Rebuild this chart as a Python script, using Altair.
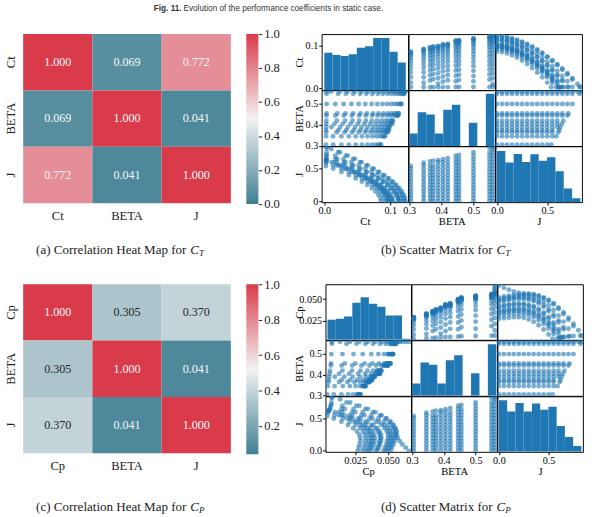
import altair as alt
import pandas as pd

# ---------------------------------------------------------------- palette
BLUE = "#1f77b4"
TEAL = "#3f7f93"
MID = "#f2f2f2"
RED = "#da3b4b"
INK = "#222222"
SERIF = "Liberation Serif"
SANS = "Liberation Sans"

# ---------------------------------------------------------------- correlations
VARS_T = ["Ct", "BETA", "J"]
VARS_P = ["Cp", "BETA", "J"]
CORR_T = [[1.000, 0.069, 0.772],
          [0.069, 1.000, 0.041],
          [0.772, 0.041, 1.000]]
CORR_P = [[1.000, 0.305, 0.370],
          [0.305, 1.000, 0.041],
          [0.370, 0.041, 1.000]]
CBAR_RANGE_T = [0.0, 1.0]
CBAR_RANGE_P = [0.041, 1.0]
CBAR_TICKS_T = [0.0, 0.2, 0.4, 0.6, 0.8, 1.0]
CBAR_TICKS_P = [0.2, 0.4, 0.6, 0.8, 1.0]

# ---------------------------------------------------------------- static sweep
BETA_LEVELS = [0.305, 0.345, 0.365, 0.375, 0.39, 0.405, 0.42, 0.445, 0.455, 0.50, 0.55, 0.56]
J_MAX = [0.54, 0.59, 0.61, 0.62, 0.63, 0.645, 0.66, 0.70, 0.71, 0.75, 0.82, 0.83]
J_GRID = [0.0, 0.05, 0.1, 0.15, 0.2, 0.25, 0.3, 0.35, 0.4, 0.45, 0.5, 0.55, 0.6,
          0.65, 0.7, 0.75, 0.8]

CT_CURVES = [
    [.0860, .0849, .0819, .0777, .0721, .0652, .0570, .0477, .0373, .0260, .0136, .0026],
    [.0920, .0910, .0884, .0845, .0793, .0730, .0656, .0571, .0477, .0372, .0259, .0133, .0028],
    [.0960, .0950, .0924, .0885, .0835, .0773, .0701, .0617, .0524, .0420, .0308, .0187, .0029],
    [.0980, .0970, .0945, .0906, .0856, .0795, .0722, .0639, .0548, .0446, .0335, .0214, .0029],
    [.0990, .0980, .0955, .0917, .0868, .0809, .0738, .0656, .0565, .0466, .0356, .0239, .0110, .0030],
    [.1030, .1021, .0995, .0957, .0908, .0849, .0778, .0697, .0607, .0508, .0399, .0280, .0155, .0031],
    [.1040, .1031, .1006, .0969, .0922, .0864, .0796, .0718, .0630, .0532, .0427, .0315, .0190, .0031],
    [.1120, .1111, .1086, .1053, .1006, .0951, .0884, .0809, .0724, .0629, .0528, .0417, .0296, .0168, .0034],
    [.1130, .1121, .1097, .1063, .1018, .0964, .0898, .0824, .0740, .0646, .0547, .0438, .0321, .0197, .0034],
    [.1170, .1163, .1140, .1107, .1064, .1013, .0952, .0882, .0804, .0717, .0622, .0521, .0411, .0293, .0167, .0035],
    [.1210, .1203, .1183, .1154, .1117, .1072, .1020, .0960, .0888, .0811, .0727, .0638, .0541, .0437, .0327, .0209, .0036],
    [.1230, .1223, .1203, .1175, .1137, .1092, .1041, .0980, .0911, .0833, .0750, .0661, .0566, .0464, .0354, .0236, .0105, .0037],
]
CP_CURVES = [
    [.0270, .0278, .0284, .0290, .0290, .0282, .0264, .0235, .0196, .0146, .0088, .0038],
    [.0307, .0315, .0323, .0329, .0330, .0324, .0312, .0289, .0254, .0210, .0157, .0094, .0043],
    [.0335, .0344, .0352, .0358, .0360, .0355, .0343, .0321, .0289, .0245, .0191, .0128, .0047],
    [.0353, .0363, .0372, .0378, .0380, .0376, .0364, .0342, .0310, .0266, .0212, .0148, .0049],
    [.0372, .0382, .0391, .0397, .0400, .0396, .0385, .0364, .0331, .0287, .0232, .0168, .0096, .0052],
    [.0409, .0420, .0430, .0436, .0440, .0436, .0425, .0405, .0372, .0327, .0273, .0205, .0128, .0057],
    [.0419, .0429, .0439, .0446, .0450, .0447, .0437, .0418, .0388, .0344, .0291, .0227, .0153, .0059],
    [.0465, .0475, .0487, .0494, .0500, .0500, .0492, .0475, .0449, .0409, .0359, .0298, .0228, .0148, .0065],
    [.0484, .0494, .0506, .0513, .0519, .0520, .0512, .0496, .0471, .0432, .0381, .0322, .0252, .0172, .0068],
    [.0502, .0513, .0524, .0532, .0538, .0540, .0535, .0524, .0501, .0470, .0427, .0373, .0308, .0238, .0154, .0070],
    [.0521, .0531, .0541, .0550, .0557, .0560, .0560, .0551, .0535, .0513, .0482, .0440, .0386, .0328, .0260, .0185, .0073],
    [.0660, .0635, .0610, .0590, .0575, .0568, .0565, .0558, .0543, .0520, .0490, .0452, .0404, .0347, .0283, .0212, .0136, .0075],
]

# histogram counts (10 bins over each variable's range)
HIST_CT = [115, 108, 105, 110, 130, 135, 160, 160, 118, 85]
HIST_BETA_T = [39, 104, 97, 39, 112, 127, 0, 72, 0, 161]
HIST_J_T = [157, 122, 148, 123, 147, 127, 138, 95, 42, 12]
HIST_CP = [62, 65, 72, 115, 132, 112, 102, 75, 75, 3]
HIST_BETA_P = [38, 103, 96, 38, 110, 126, 0, 70, 0, 160]
HIST_J_P = [160, 125, 151, 125, 150, 130, 140, 80, 46, 18]
HIST_RANGE = {"Ct": (0.0, 0.1235), "Cp": (0.004, 0.067), "BETA": (0.30, 0.565), "J": (0.0, 0.83)}
HIST_TOP = 172

# axis limits and ticks of the scatter matrices
DOMAIN = {"Ct": [-0.004, 0.127], "Cp": [0.0025, 0.0675], "BETA": [0.298, 0.567], "J": [-0.015, 0.845]}
TICKS = {"Ct": [0.0, 0.1], "Cp": [0.025, 0.05], "BETA": [0.3, 0.4, 0.5], "J": [0.0, 0.5]}
FORMAT = {"Ct": ".1f", "Cp": ".3f", "BETA": ".1f", "J": ".1f"}

# ---------------------------------------------------------------- tables
rows = []
for beta, jmax, cts, cps in zip(BETA_LEVELS, J_MAX, CT_CURVES, CP_CURVES):
    js = [j for j in J_GRID if j < jmax - 0.025] + [jmax]
    for j, ct, cp in zip(js, cts, cps):
        rows.append({"BETA": beta, "J": j, "Ct": ct, "Cp": cp})
points = pd.DataFrame(rows)


def hist_frame(counts, var):
    lo, hi = HIST_RANGE[var]
    w = (hi - lo) / len(counts)
    return pd.DataFrame({
        "lo": [lo + i * w for i in range(len(counts))],
        "hi": [lo + (i + 1) * w for i in range(len(counts))],
        "count": counts,
    })


def corr_frame(vars_, mat):
    return pd.DataFrame([{"row": vars_[i], "col": vars_[j], "v": mat[i][j]}
                         for i in range(3) for j in range(3)])


ONE = pd.DataFrame({"k": [0]})

# ---------------------------------------------------------------- heat maps
HM_W, HM_H, CB_W = 215, 175, 12.5


def heat_block(vars_, mat, rng, ticks):
    df = corr_frame(vars_, mat)
    mid = (rng[0] + rng[1]) / 2
    cscale = alt.Scale(domain=[rng[0], mid, rng[1]], range=[TEAL, MID, RED], interpolate="rgb")
    x = alt.X("col:N", sort=vars_, axis=alt.Axis(
        title=None, labelAngle=0, ticks=False, domain=False, labelPadding=7,
        labelFont=SERIF, labelFontSize=13, labelColor=INK))
    y = alt.Y("row:N", sort=vars_, axis=alt.Axis(
        title=None, labelAngle=-90, labelAlign="center", labelBaseline="bottom",
        ticks=False, domain=False, labelPadding=6,
        labelFont=SERIF, labelFontSize=13, labelColor=INK))
    cells = alt.Chart(df).mark_rect().encode(
        x=x, y=y, color=alt.Color("v:Q", scale=cscale, legend=None))
    labels = alt.Chart(df).mark_text(font=SERIF, fontSize=12.5).encode(
        x=x, y=y, text=alt.Text("v:Q", format=".3f"),
        color=alt.condition("datum.v > 0.2 && datum.v < 0.6",
                            alt.value("#262626"), alt.value("#f7f7f7")))
    heat = alt.layer(cells, labels).properties(width=HM_W, height=HM_H)

    grad = alt.Gradient(
        gradient="linear",
        stops=[alt.GradientStop(color=TEAL, offset=0),
               alt.GradientStop(color=MID, offset=0.5),
               alt.GradientStop(color=RED, offset=1)],
        x1=0, x2=0, y1=1, y2=0)
    bar = alt.Chart(pd.DataFrame({"lo": [rng[0]], "hi": [rng[1]]})).mark_rect(fill=grad).encode(
        y=alt.Y("lo:Q", scale=alt.Scale(domain=rng, nice=False, zero=False),
                axis=alt.Axis(orient="right", values=ticks, format=".1f", title=None,
                              grid=False, domain=False, tickSize=3.5, tickColor=INK,
                              labelPadding=2, labelFont=SERIF, labelFontSize=13,
                              labelColor=INK, labelFlush=False, labelOverlap=False)),
        y2="hi:Q",
        x=alt.value(0), x2=alt.value(CB_W),
    ).properties(width=CB_W, height=HM_H + 1)
    return alt.hconcat(heat, bar, spacing=14)


# ---------------------------------------------------------------- scatter matrices
def x_axis(var):
    return alt.Axis(values=TICKS[var], format=FORMAT[var], title=var, grid=False,
                    domain=False, tickSize=3, tickColor="black", labelPadding=1,
                    labelFont=SERIF, labelFontSize=10.5, labelColor="black",
                    titleFont=SERIF, titleFontSize=11, titleFontWeight="normal",
                    titleColor="black", titlePadding=0, labelFlush=False,
                    labelOverlap=False)


def y_axis(var, title_x, bare_zero):
    extra = {}
    if bare_zero and var == "J":
        extra["labelExpr"] = "datum.value == 0 ? '0' : format(datum.value, '.1f')"
    return alt.Axis(values=TICKS[var], format=FORMAT[var], title=var, grid=False,
                    domain=False, tickSize=3, tickColor="black", labelPadding=1,
                    labelFont=SERIF, labelFontSize=10.5, labelColor="black",
                    titleFont=SERIF, titleFontSize=11, titleFontWeight="normal",
                    titleColor="black", titleX=title_x, labelFlush=False,
                    labelOverlap=False, **extra)


def scatter_matrix(vars_, hists, pw, ph, title_x, bare_zero):
    frame = alt.ViewBackground(stroke="black", strokeWidth=1)
    panels = []
    for r, yv in enumerate(vars_):
        for c, xv in enumerate(vars_):
            xs = alt.Scale(domain=DOMAIN[xv], nice=False, zero=False)
            ys = alt.Scale(domain=DOMAIN[yv], nice=False, zero=False)
            xa = x_axis(xv) if r == 2 else None
            ya = y_axis(yv, title_x, bare_zero) if c == 0 else None
            if r == c:
                bars = alt.Chart(hist_frame(hists[xv], xv)).mark_rect(color=BLUE, clip=True).encode(
                    x=alt.X("lo:Q", scale=xs, axis=xa),
                    x2="hi:Q",
                    y=alt.Y("count:Q", scale=alt.Scale(domain=[0, HIST_TOP], nice=False), axis=None),
                    y2=alt.datum(0),
                )
                if ya is not None:
                    guide = alt.Chart(points).mark_point(opacity=0).encode(
                        x=alt.X(f"{xv}:Q", scale=xs, axis=None),
                        y=alt.Y(f"{yv}:Q", scale=ys, axis=ya),
                    )
                    ch = alt.layer(guide, bars).resolve_scale(y="independent")
                else:
                    ch = bars
            else:
                ch = alt.Chart(points).mark_circle(size=26, opacity=0.6, color=BLUE, clip=True).encode(
                    x=alt.X(f"{xv}:Q", scale=xs, axis=xa),
                    y=alt.Y(f"{yv}:Q", scale=ys, axis=ya),
                )
            panels.append(ch.properties(width=pw, height=ph, view=frame))
    return alt.concat(*panels, columns=3, spacing=0, bounds="flush")


# ---------------------------------------------------------------- captions
def piece(text, x, y, size, font=SERIF, weight="normal", style="normal", align="left", color=INK):
    return alt.Chart(ONE).mark_text(
        text=text, font=font, fontSize=size, fontWeight=weight, fontStyle=style,
        align=align, baseline="middle", color=color,
    ).encode(x=alt.value(x), y=alt.value(y))


def caption(parts, height):
    layers = []
    for label, sub, xc, yc in parts:
        layers.append(piece(label, xc - 4, yc, 13.5, align="right"))
        layers.append(piece("C", xc, yc, 13.5, style="italic"))
        layers.append(piece(sub, xc + 9, yc + 3, 9.5, style="italic"))
    return alt.layer(*layers).properties(width=590, height=height)


title = alt.layer(
    piece("Fig. 11.", 164, 4.5, 8.5, font=SANS, weight="bold", align="right", color="#333333"),
    piece("Evolution of the performance coefficients in static case.", 166, 4.5, 8.5,
          font=SANS, color="#333333"),
).properties(width=590, height=23)

hists_t = {"Ct": HIST_CT, "BETA": HIST_BETA_T, "J": HIST_J_T}
hists_p = {"Cp": HIST_CP, "BETA": HIST_BETA_P, "J": HIST_J_P}

row_t = alt.hconcat(
    heat_block(VARS_T, CORR_T, CBAR_RANGE_T, CBAR_TICKS_T),
    scatter_matrix(VARS_T, hists_t, 89.5, 58, -18, True),
    spacing=13,
)
row_p = alt.hconcat(
    heat_block(VARS_P, CORR_P, CBAR_RANGE_P, CBAR_TICKS_P),
    scatter_matrix(VARS_P, hists_p, 88.5, 57.5, -22, False),
    spacing=13,
)

cap_t = caption([("(a) Correlation Heat Map for", "T", 173, 23),
                 ("(b) Scatter Matrix for", "T", 490, 23)], 50)
cap_p = caption([("(c) Correlation Heat Map for", "P", 173, 29.5),
                 ("(d) Scatter Matrix for", "P", 490, 29.5)], 40)

chart = alt.vconcat(title, row_t, cap_t, row_p, cap_p, spacing=0).properties(
    padding={"left": 4, "top": -6, "right": 0, "bottom": 0},
    background="white",
).configure_view(stroke="transparent")

chart.save("out.html", embed_options={"renderer": "svg", "actions": False})
